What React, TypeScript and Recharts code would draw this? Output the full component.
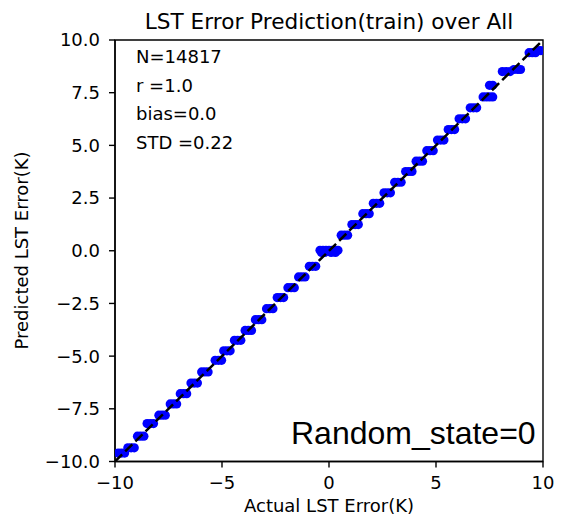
import React from 'react';
import {
  ScatterChart,
  Scatter,
  XAxis,
  YAxis,
  ReferenceArea,
} from 'recharts';

// predicted value of each cluster (the model output is quantised)
const predictedLevels = [
  -9.6, -9.35, -8.8, -8.2, -7.8, -7.27, -6.78, -6.28, -5.75, -5.2,
  -4.75, -4.25, -3.78, -3.27, -2.75, -2.22, -1.75, -1.24, -0.74, 0.02,
  -0.08, 0.74, 1.24, 1.76, 2.25, 2.75, 3.25, 3.76, 4.25, 4.75,
  5.25, 5.75, 6.26, 6.78, 7.3, 7.85, 8.5, 8.6, 9.4, 9.5,
];

// actual values falling in each predicted level (same order as above)
const actualGroups = [
  [-9.85, -9.7, -9.55],
  [-9.4, -9.25, -9.1],
  [-8.95, -8.8, -8.65],
  [-8.5, -8.35, -8.2],
  [-7.95, -7.8, -7.65],
  [-7.42, -7.27, -7.12],
  [-6.95, -6.8, -6.65],
  [-6.45, -6.3, -6.15],
  [-5.95, -5.8, -5.65],
  [-5.32, -5.17, -5.02],
  [-4.92, -4.77, -4.62],
  [-4.42, -4.27, -4.12],
  [-3.92, -3.77, -3.62],
  [-3.44, -3.29, -3.14],
  [-2.92, -2.77, -2.62],
  [-2.42, -2.27, -2.12],
  [-1.92, -1.77, -1.62],
  [-1.42, -1.27, -1.12],
  [-0.92, -0.77, -0.62],
  [-0.42, -0.28, -0.14, 0, 0.14, 0.28, 0.42],
  [-0.35, -0.2, 0.1, 0.3],
  [0.57, 0.72, 0.87],
  [1.07, 1.22, 1.37],
  [1.58, 1.73, 1.88],
  [2.07, 2.22, 2.37],
  [2.57, 2.72, 2.87],
  [3.07, 3.22, 3.37],
  [3.58, 3.73, 3.88],
  [4.07, 4.22, 4.37],
  [4.57, 4.72, 4.87],
  [5.07, 5.22, 5.37],
  [5.57, 5.72, 5.87],
  [6.08, 6.23, 6.38],
  [6.6, 6.75, 6.9],
  [7.2, 7.35, 7.5, 7.65],
  [7.5, 7.65],
  [8.1, 8.28, 8.46],
  [8.64, 8.82, 8.95],
  [9.35, 9.5, 9.65],
  [9.75, 9.9],
];

// 1:1 line end points
const diagonal = [
  { actual: -10, predicted: -10 },
  { actual: 10, predicted: 10 },
];

const xTicks = [-10, -5, 0, 5, 10];
const yTicks = [-10, -7.5, -5, -2.5, 0, 2.5, 5, 7.5, 10];

const statLines = ['N=14817', 'r =1.0', 'bias=0.0', 'STD =0.22'];

const points = predictedLevels.flatMap((p, i) =>
  actualGroups[i].map((a) => ({ actual: a, predicted: p }))
);

const minus = (s: string) => s.replace('-', '\u2212');

const FONT = '"DejaVu Sans", sans-serif';

const Dot = (props: any) => (
  <circle cx={props.cx} cy={props.cy} r={4.6} fill="#0000ff" />
);

const NoDot = () => <g />;

export default function App() {
  return (
    <div style={{ position: 'absolute', left: 0, top: 0, width: 564, height: 519, background: '#fff' }}>
      <ScatterChart
        width={564}
        height={519}
        margin={{ top: 40, right: 21, bottom: 27.5, left: 55 }}
      >
        <XAxis
          type="number"
          dataKey="actual"
          domain={[-10, 10]}
          ticks={xTicks}
          allowDataOverflow
          height={30}
          tickSize={6}
          tickMargin={9}
          tickFormatter={(v: number) => minus(String(v))}
          tick={{ fill: '#000', fontSize: 18, fontFamily: FONT }}
          stroke="#000"
          strokeWidth={1.4}
        />
        <YAxis
          type="number"
          dataKey="predicted"
          domain={[-10, 10]}
          ticks={yTicks}
          allowDataOverflow
          width={60}
          tickSize={6}
          tickMargin={9}
          tickFormatter={(v: number) => minus(v.toFixed(1))}
          tick={{ fill: '#000', fontSize: 18, fontFamily: FONT }}
          stroke="#000"
          strokeWidth={1.4}
        />
        <Scatter data={points} shape={Dot} isAnimationActive={false} />
        {/* dashed 1:1 line, drawn after the points so it sits on top */}
        <Scatter
          data={diagonal}
          shape={NoDot}
          line={{ stroke: '#000', strokeWidth: 2.5, strokeDasharray: '10 4.3' }}
          isAnimationActive={false}
        />
        <ReferenceArea
          x1={-10}
          x2={10}
          y1={-10}
          y2={10}
          fill="none"
          fillOpacity={0}
          stroke="#000"
          strokeWidth={1.4}
        />
      </ScatterChart>
      <svg
        width={564}
        height={519}
        style={{ position: 'absolute', left: 0, top: 0, pointerEvents: 'none' }}
      >
        <text x={329} y={28.5} textAnchor="middle" fontSize={21.6} fontFamily={FONT} fill="#000">
          LST Error Prediction(train) over All
        </text>
        {statLines.map((s, i) => (
          <text key={s} x={136} y={63.3 + i * 28.4} fontSize={18} fontFamily={FONT} fill="#000">
            {s}
          </text>
        ))}
        <text x={329} y={511.5} textAnchor="middle" fontSize={18} fontFamily={FONT} fill="#000">
          Actual LST Error(K)
        </text>
        <text
          transform="translate(28,250.5) rotate(-90)"
          textAnchor="middle"
          fontSize={18}
          fontFamily={FONT}
          fill="#000"
        >
          Predicted LST Error(K)
        </text>
        <text x={291} y={444} fontSize={32} fontFamily='"Liberation Sans", Arial, sans-serif' fill="#000">
          Random_state=0
        </text>
      </svg>
    </div>
  );
}
